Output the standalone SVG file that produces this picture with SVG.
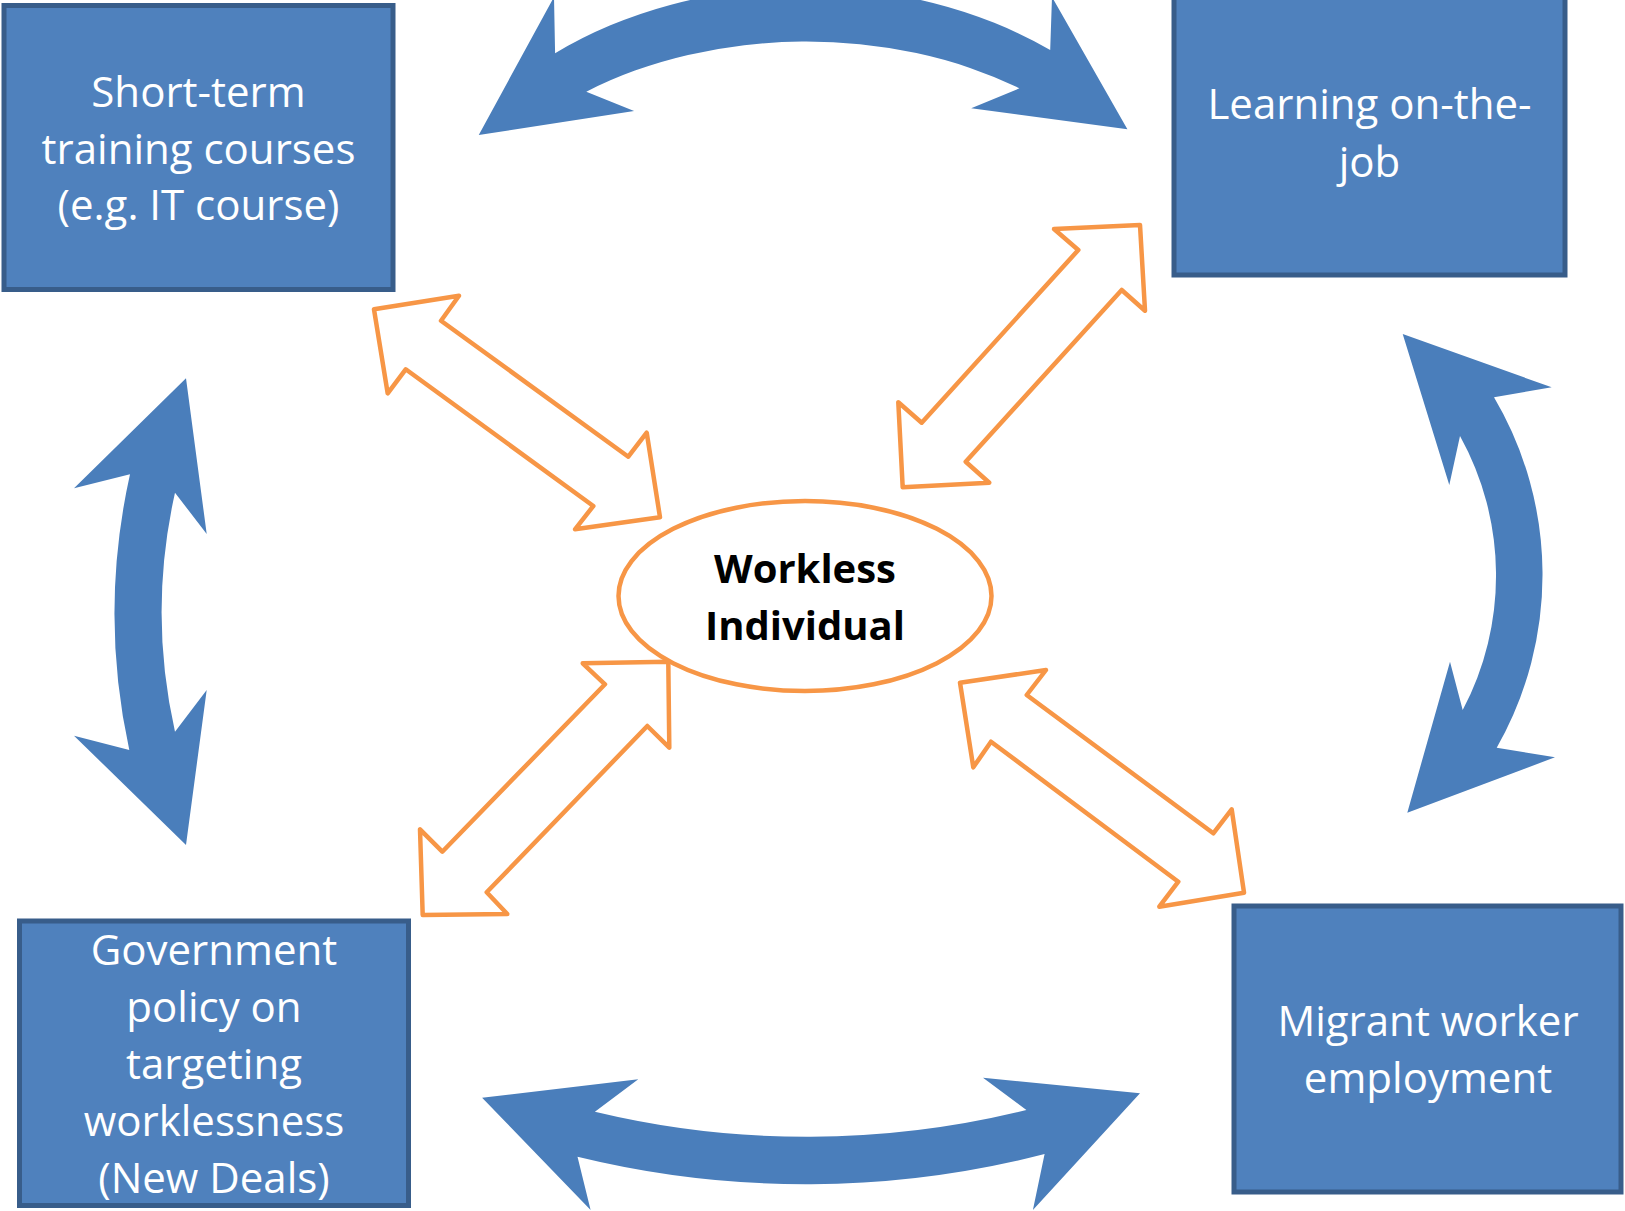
<svg xmlns="http://www.w3.org/2000/svg" width="1625" height="1211" viewBox="0 0 1625 1211">
<style>
.box{fill:#4F81BD;stroke:#385D8A;stroke-width:5}
.bt{font-family:"Open Sans","Noto Sans",sans-serif;font-size:42px;fill:#FFFFFF;text-anchor:middle}
.ct{font-family:"Open Sans","Noto Sans",sans-serif;font-size:40px;font-weight:bold;fill:#000000;text-anchor:middle}
.blue{fill:#4A7EBB;stroke:none}
.orange{fill:#FFFFFF;stroke:#F79646;stroke-width:4.5;stroke-linejoin:round}
</style>
<rect width="1625" height="1211" fill="#FFFFFF"/>
<g id="node-short-term">
<rect class="box" x="4" y="5.5" width="389" height="284"/>
<text class="bt" x="198.5" y="107">Short-term</text>
<text class="bt" x="198.5" y="164">training courses</text>
<text class="bt" x="198.5" y="220">(e.g. IT course)</text>
</g>
<g id="node-learning">
<rect class="box" x="1174" y="-8" width="391" height="283"/>
<text class="bt" x="1369.5" y="119">Learning on-the-</text>
<text class="bt" x="1369.5" y="177">job</text>
</g>
<g id="node-government">
<rect class="box" x="19.5" y="921" width="389" height="284.5"/>
<text class="bt" x="214" y="965">Government</text>
<text class="bt" x="214" y="1022">policy on</text>
<text class="bt" x="214" y="1079">targeting</text>
<text class="bt" x="214" y="1136">worklessness</text>
<text class="bt" x="214" y="1193">(New Deals)</text>
</g>
<g id="node-migrant">
<rect class="box" x="1234" y="906" width="387" height="286"/>
<text class="bt" x="1428" y="1036">Migrant worker</text>
<text class="bt" x="1428" y="1093">employment</text>
</g>
<g id="node-workless">
<ellipse cx="805" cy="596" rx="186.5" ry="95" fill="#FFFFFF" stroke="#F79646" stroke-width="4.5"/>
<text class="ct" x="805" y="583">Workless</text>
<text class="ct" x="805" y="640">Individual</text>
</g>
<g id="connectors">
<path class="blue" d="M478.75 135 L554 -3 L555.1 53.3 A400 300 0 0 1 1050.2 50 L1052 -3 L1127.4 129.3 L971.2 108.3 L1019.4 88.3 A360 240.7 0 0 0 586.3 91.7 L634.1 111 Z"/>
<path class="blue" d="M482.1 1097.7 L638.3 1079.3 L594.9 1111.7 A910 910 0 0 0 1026.4 1110 L983 1077.7 L1140 1093.3 L1032.9 1210 L1044.6 1154 A960 960 0 0 1 577.5 1156.7 L590.6 1210 Z"/>
<path class="blue" d="M186 378.3 L206.7 534 L175 492.7 A545 545 0 0 0 175 731.7 L206.7 690 L186 845 L74 735.7 L129.3 750 A640 640 0 0 1 130 474.3 L74 488.3 Z"/>
<path class="blue" d="M1402.7 334 L1551.7 387.3 L1494 397.3 A349 349 0 0 1 1496.7 747.7 L1555 757.3 L1407.3 812.7 L1450 661.7 L1462.7 710 A288 288 0 0 0 1460 436 L1449.3 485 Z"/>
<path class="orange" d="M374 309.3 L459 295.7 L441 320.7 L628.3 456.7 L646.7 432.7 L660 517.3 L575 529.3 L593.3 506 L405.7 369.3 L387.7 393.3 Z"/>
<path class="orange" d="M1140 225 L1054 229 L1078.3 250 L921.7 422.7 L898.3 402.3 L902.7 487.3 L989.3 482.7 L965.7 461.7 L1121.7 290 L1145 310.7 Z"/>
<path class="orange" d="M668.3 661.7 L582.7 663.3 L605 684.3 L442.3 851.7 L420 829.3 L422.7 915 L507.3 914 L486.7 892.3 L647.3 726 L669.3 747.7 Z"/>
<path class="orange" d="M960 682.7 L1046 670 L1026.7 695 L1213.3 833.3 L1231.7 809.3 L1244 892.7 L1159.3 906.7 L1178.3 881.7 L991 741.7 L973.3 767.3 Z"/>
</g>
</svg>
